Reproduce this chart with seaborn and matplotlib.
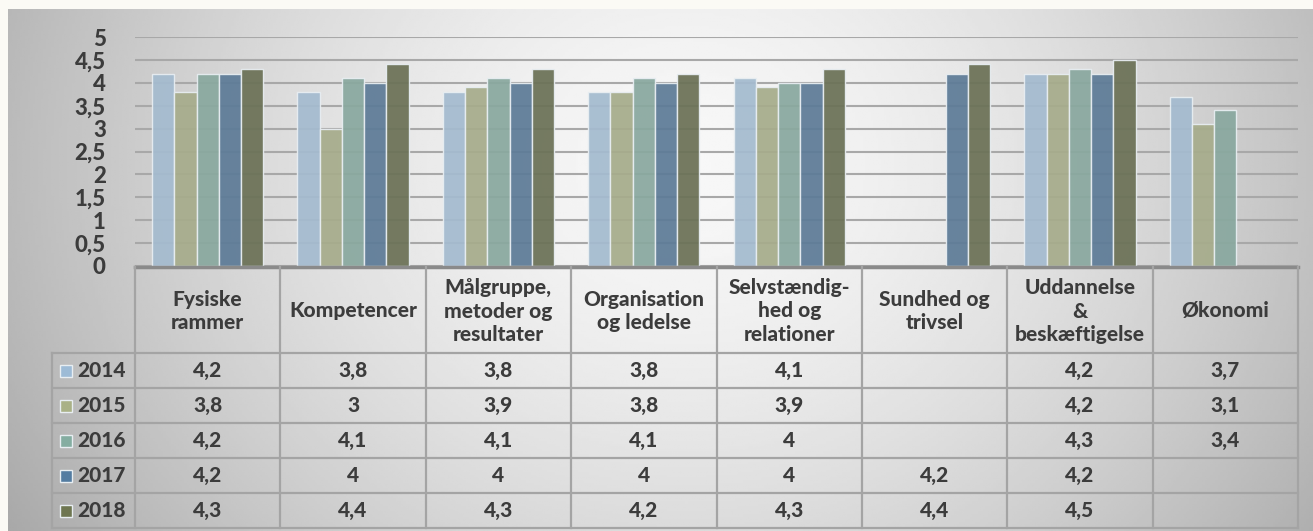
import numpy as np
import pandas as pd
import matplotlib.pyplot as plt
import matplotlib.transforms as mtransforms
import seaborn as sns

# Data
categories = ['Fysiske\nrammer', 'Kompetencer', 'Målgruppe,\nmetoder og\nresultater',
              'Organisation\nog ledelse', 'Selvstændig-\nhed og\nrelationer',
              'Sundhed og\ntrivsel', 'Uddannelse\n&\nbeskæftigelse', 'Økonomi']
years = ['2014', '2015', '2016', '2017', '2018']
v2014 = [4.2, 3.8, 3.8, 3.8, 4.1, None, 4.2, 3.7]
v2015 = [3.8, 3.0, 3.9, 3.8, 3.9, None, 4.2, 3.1]
v2016 = [4.2, 4.1, 4.1, 4.1, 4.0, None, 4.3, 3.4]
v2017 = [4.2, 4.0, 4.0, 4.0, 4.0, 4.2, 4.2, None]
v2018 = [4.3, 4.4, 4.3, 4.2, 4.3, 4.4, 4.5, None]
yticks = [0, 0.5, 1, 1.5, 2, 2.5, 3, 3.5, 4, 4.5, 5]
colors = ['#9dbbd6', '#a9b186', '#84ada1', '#537ca1', '#6e7651']

series = [v2014, v2015, v2016, v2017, v2018]
rows = []
for yr, vals in zip(years, series):
    for cat, v in zip(categories, vals):
        rows.append({'Kategori': cat, 'År': yr, 'Score': v})
df = pd.DataFrame(rows)

W, H = 1313, 531
txt = '#3c3c3c'
font = 'Lato'
fw = 'black'
fs = 15

fig = plt.figure(figsize=(W / 100, H / 100), dpi=100, facecolor='#fbfaf5')

# gradient background of chart area
bg = fig.add_axes([8 / W, 0, (W - 8) / W, (H - 9) / H])
gx = np.linspace(0, 1, 500)
gy = np.linspace(0, 1, 200)
X, Y = np.meshgrid(gx, gy)
d = np.sqrt(((X - 0.52) / 0.6) ** 2 + ((Y - 0.3) / 1.3) ** 2)
val = np.clip(0.97 - 0.3 * d ** 1.6, 0, 1)
bg.imshow(val, cmap='gray', vmin=0, vmax=1, aspect='auto', extent=[0, 1, 1, 0])
bg.axis('off')

# bar axes
x0, x1, ytop, ybot = 135, 1298, 37, 266
ax = fig.add_axes([x0 / W, (H - ybot) / H, (x1 - x0) / W, (ybot - ytop) / H])
ax.set_facecolor('none')
sns.barplot(data=df, x='Kategori', y='Score', hue='År', hue_order=years,
            palette=colors, width=0.765, ax=ax, edgecolor='#e8eef2',
            linewidth=1, alpha=0.93, legend=False)
ax.set_xlim(-0.5, len(categories) - 0.5)
ax.set_ylim(0, 5)
ax.set_yticks(yticks)
ax.set_yticklabels([f'{t:g}'.replace('.', ',') for t in yticks],
                   fontsize=16, fontweight=fw, color=txt, family=font)
ax.tick_params(axis='y', length=0, pad=21)
ax.tick_params(axis='x', length=0, labelbottom=False)
ax.set_xlabel('')
ax.set_ylabel('')
ax.yaxis.grid(True, color='#a8a8a8', lw=1.5)
ax.set_axisbelow(True)
for s in ax.spines.values():
    s.set_visible(False)

# data table under the chart
colw = (x1 - x0) / len(categories)
blend = mtransforms.blended_transform_factory(ax.transData, fig.transFigure)


def px_x(px):
    return -0.5 + (px - x0) / colw


def px_y(py):
    return (H - py) / H


row_edges = [353, 388, 423, 458, 493, 528]
left = px_x(52)
right = len(categories) - 0.5
lc = '#a4a4a4'

ax.plot([-0.5, right], [px_y(267), px_y(267)], color='#8a8a8a', lw=2.5,
        transform=blend, clip_on=False)
for i, ye in enumerate(row_edges):
    ax.plot([left, right], [px_y(ye), px_y(ye)], color=lc, lw=1.6,
            transform=blend, clip_on=False)
for i in range(len(categories) + 1):
    ax.plot([i - 0.5, i - 0.5], [px_y(267), px_y(528)], color=lc, lw=1.6,
            transform=blend, clip_on=False)
ax.plot([left, left], [px_y(353), px_y(528)], color=lc, lw=1.6,
        transform=blend, clip_on=False)

for i, cat in enumerate(categories):
    ax.text(i, px_y(311), cat, ha='center', va='center', fontsize=fs,
            fontweight=fw, color=txt, family=font, linespacing=1.3,
            transform=blend)

for r, (yr, vals) in enumerate(zip(years, series)):
    yc = px_y((row_edges[r] + row_edges[r + 1]) / 2)
    ax.plot([px_x(66)], [yc], marker='s', ms=9, mfc=colors[r], mec='#e8eef2',
            mew=1, transform=blend, clip_on=False)
    ax.text(px_x(77), yc, yr, ha='left', va='center', fontsize=fs,
            fontweight=fw, color=txt, family=font, transform=blend)
    for i, v in enumerate(vals):
        if v is None:
            continue
        ax.text(i, yc, f'{v:g}'.replace('.', ','), ha='center', va='center',
                fontsize=fs, fontweight=fw, color=txt, family=font,
                transform=blend)

fig.savefig('out.png', dpi=100, facecolor=fig.get_facecolor())
